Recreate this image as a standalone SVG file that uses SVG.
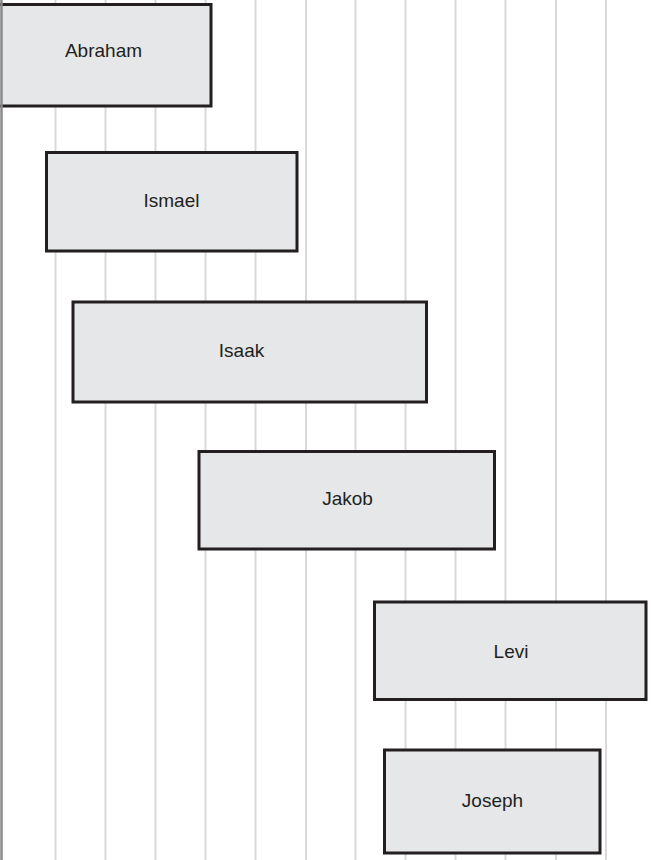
<svg xmlns="http://www.w3.org/2000/svg" width="651" height="860" viewBox="0 0 651 860">
<style>
.grid{stroke:#d9d9d9;stroke-width:2;fill:none}
.edge{stroke:#8a8a8a;stroke-width:2.5;fill:none}
.box{fill:#e6e7e8;stroke:#231f20;stroke-width:3}
.lbl{font-family:"Liberation Sans",Arial,sans-serif;font-size:19px;fill:#231f20;text-anchor:middle}
</style>
<rect x="0" y="0" width="651" height="860" fill="#ffffff"/>
<g id="grid">
<line class="grid" x1="55.5" y1="0" x2="55.5" y2="860"/>
<line class="grid" x1="105.5" y1="0" x2="105.5" y2="860"/>
<line class="grid" x1="155.5" y1="0" x2="155.5" y2="860"/>
<line class="grid" x1="205.5" y1="0" x2="205.5" y2="860"/>
<line class="grid" x1="255.5" y1="0" x2="255.5" y2="860"/>
<line class="grid" x1="306" y1="0" x2="306" y2="860"/>
<line class="grid" x1="355.5" y1="0" x2="355.5" y2="860"/>
<line class="grid" x1="405.5" y1="0" x2="405.5" y2="860"/>
<line class="grid" x1="455.5" y1="0" x2="455.5" y2="860"/>
<line class="grid" x1="505.5" y1="0" x2="505.5" y2="860"/>
<line class="grid" x1="556" y1="0" x2="556" y2="860"/>
<line class="grid" x1="606" y1="0" x2="606" y2="860"/>
</g>
<g id="connectors"></g>
<g id="abraham">
<rect class="box" x="-6" y="4.5" width="217" height="101.5"/>
<text class="lbl" x="103.5" y="57">Abraham</text>
</g>
<line class="edge" x1="1.5" y1="0" x2="1.5" y2="860"/>
<g id="ismael">
<rect class="box" x="46.5" y="152.5" width="250.5" height="98.5"/>
<text class="lbl" x="171.5" y="207">Ismael</text>
</g>
<g id="isaak">
<rect class="box" x="73" y="302" width="353.5" height="100"/>
<text class="lbl" x="241.5" y="357">Isaak</text>
</g>
<g id="jakob">
<rect class="box" x="199" y="451.5" width="295.5" height="97.5"/>
<text class="lbl" x="347.5" y="505">Jakob</text>
</g>
<g id="levi">
<rect class="box" x="374.5" y="602" width="271.5" height="97.5"/>
<text class="lbl" x="511" y="658">Levi</text>
</g>
<g id="joseph">
<rect class="box" x="384.5" y="750" width="215.5" height="103"/>
<text class="lbl" x="492.5" y="807">Joseph</text>
</g>
</svg>
